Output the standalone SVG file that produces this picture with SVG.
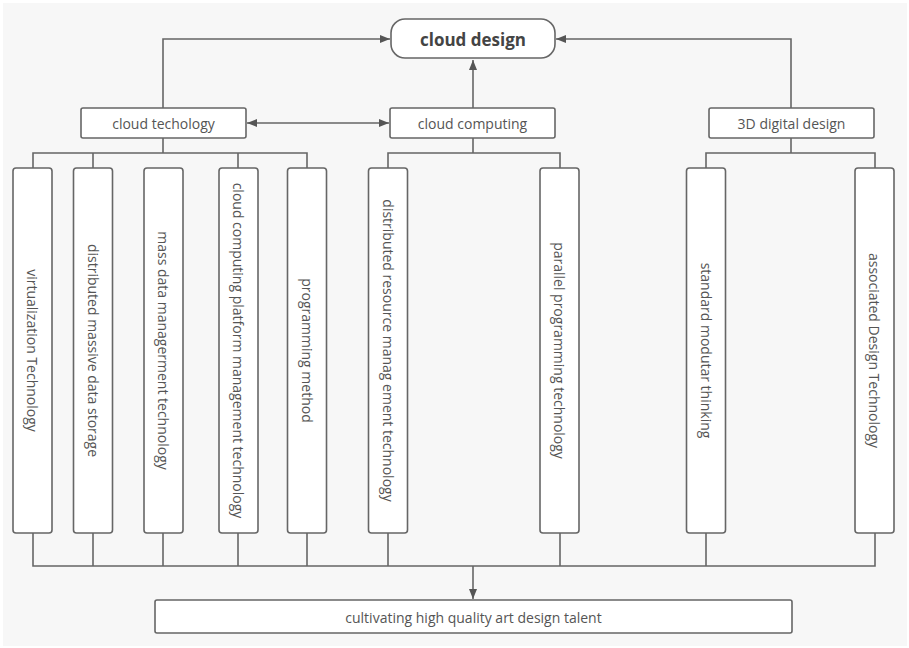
<svg xmlns="http://www.w3.org/2000/svg" width="909" height="648" viewBox="0 0 909 648">
<defs>
<marker id="arr" viewBox="0 0 10 10" refX="10" refY="5" markerWidth="10" markerHeight="10" markerUnits="userSpaceOnUse" orient="auto-start-reverse">
<path d="M0,1 L10,5 L0,9 z" fill="#555"/>
</marker>
<style>
.box{fill:#fff;stroke:#666;stroke-width:1.6}
.ln{fill:none;stroke:#666;stroke-width:1.6}
.t{font-family:"Open Sans","Noto Sans",sans-serif;font-size:14px;fill:#555;text-anchor:middle;dominant-baseline:central}
.tb{font-family:"Open Sans","Noto Sans",sans-serif;font-size:17px;font-weight:bold;fill:#444;text-anchor:middle;dominant-baseline:central}
</style>
</defs>
<rect width="909" height="648" fill="#fff"/>
<rect x="3" y="3" width="904" height="643" fill="#f7f7f7"/>
<g id="connectors">
<path class="ln" d="M163,108 V39 H390" marker-end="url(#arr)"/>
<path class="ln" d="M791,108 V39 H556" marker-end="url(#arr)"/>
<path class="ln" d="M473,108 V60" marker-end="url(#arr)"/>
<path class="ln" d="M247,123 H389" marker-start="url(#arr)" marker-end="url(#arr)"/>
<path class="ln" d="M163,138 V153 M33,168 V153 H307 V168 M93,153 V168 M238,153 V168"/>
<path class="ln" d="M473,138 V153 M388,168 V153 H560 V168"/>
<path class="ln" d="M791,138 V153 M706,168 V153 H875 V168"/>
<path class="ln" d="M33,533 V566 H875 V533 M93,533 V566 M163,533 V566 M238,533 V566 M307,533 V566 M388,533 V566 M560,533 V566 M706,533 V566"/>
<path class="ln" d="M473,566 V599" marker-end="url(#arr)"/>
</g>
<g id="cloud-design"><rect class="box" x="391" y="19" width="164" height="39" rx="14"/><text class="tb" x="473" y="39">cloud design</text></g>
<g id="cloud-techology"><rect class="box" x="81" y="108" width="165" height="30" rx="2"/><text class="t" x="163.5" y="123">cloud techology</text></g>
<g id="cloud-computing"><rect class="box" x="390" y="108" width="165" height="30" rx="2"/><text class="t" x="472.5" y="123">cloud computing</text></g>
<g id="digital-design"><rect class="box" x="709" y="108" width="165" height="30" rx="2"/><text class="t" x="791.5" y="123">3D digital design</text></g>
<g id="n1"><rect class="box" x="13" y="168" width="39" height="365" rx="3"/><text class="t" transform="translate(32.5,350.5) rotate(90)">virtualization Technology</text></g>
<g id="n2"><rect class="box" x="73.5" y="168" width="39" height="365" rx="3"/><text class="t" transform="translate(93,350.5) rotate(90)">distributed massive data storage</text></g>
<g id="n3"><rect class="box" x="144" y="168" width="39" height="365" rx="3"/><text class="t" transform="translate(163.5,350.5) rotate(90)">mass data managerment technology</text></g>
<g id="n4"><rect class="box" x="219" y="168" width="39" height="365" rx="3"/><text class="t" transform="translate(238.5,350.5) rotate(90)">cloud computing platform management technology</text></g>
<g id="n5"><rect class="box" x="287.5" y="168" width="39" height="365" rx="3"/><text class="t" transform="translate(307,350.5) rotate(90)">programming method</text></g>
<g id="n6"><rect class="box" x="368.5" y="168" width="39" height="365" rx="3"/><text class="t" transform="translate(388,350.5) rotate(90)">distributed resource manag ement technology</text></g>
<g id="n7"><rect class="box" x="540" y="168" width="39" height="365" rx="3"/><text class="t" transform="translate(559.5,350.5) rotate(90)">parallel programming technology</text></g>
<g id="n8"><rect class="box" x="686.5" y="168" width="39" height="365" rx="3"/><text class="t" transform="translate(706,350.5) rotate(90)">standard modutar thinking</text></g>
<g id="n9"><rect class="box" x="855" y="168" width="39" height="365" rx="3"/><text class="t" transform="translate(874.5,350.5) rotate(90)">associated Design Technology</text></g>
<g id="talent"><rect class="box" x="155" y="600" width="637" height="33" rx="2"/><text class="t" x="473.5" y="617">cultivating high quality art design talent</text></g>
</svg>
